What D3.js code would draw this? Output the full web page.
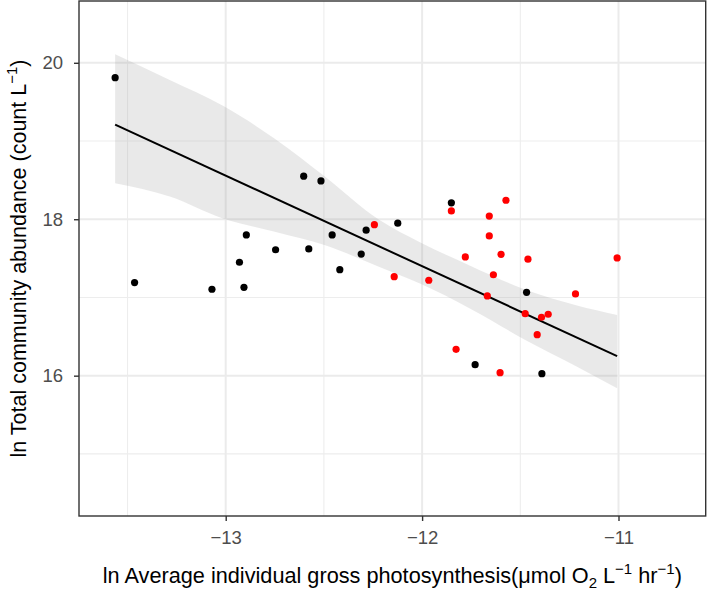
<!DOCTYPE html>
<html>
<head>
<meta charset="utf-8">
<script src="https://cdn.jsdelivr.net/npm/d3@7"></script>
<style>
  html, body { margin: 0; padding: 0; background: #fff; }
  svg { display: block; font-family: "Liberation Sans", Arial, Helvetica, sans-serif; }
</style>
</head>
<body>
<svg id="chart" width="709" height="591"></svg>
<script>
// ---- data ----
const blackX = [-13.563, -13.464, -13.070, -12.907, -12.895, -12.930, -12.746, -12.603, -12.515, -12.577,
                -12.458, -12.419, -12.310, -12.285, -12.124, -11.851, -11.468, -11.730, -11.390];
const blackY = [19.81, 17.19, 17.105, 17.13, 17.80, 17.45, 17.61, 18.55, 18.49, 17.62,
                17.80, 17.355, 17.555, 17.86, 17.95, 18.21, 17.066, 16.14, 16.026];
const redX = [-12.243, -12.142, -11.966, -11.851, -11.780, -11.658, -11.658, -11.598, -11.573, -11.637,
              -11.461, -11.007, -11.219, -11.668, -11.475, -11.392, -11.358, -11.414, -11.827, -11.603];
const redY = [17.93, 17.266, 17.22, 18.106, 17.518, 18.04, 17.786, 17.552, 18.243, 17.29,
              17.49, 17.505, 17.045, 17.02, 16.793, 16.747, 16.785, 16.524, 16.337, 16.038];
// fitted line and its confidence band
const fitX = [-13.563, -11.007];
const fitY = [19.21, 16.25];
const bandX  = [-13.563, -13.285, -13.014, -12.75, -12.497, -12.217, -12.014, -11.75, -11.47, -11.216, -11.007];
const bandHi = [20.11, 19.78, 19.45, 19.03, 18.55, 17.99, 17.71, 17.40, 17.095, 16.90, 16.776];
const bandLo = [18.46, 18.29, 18.01, 17.84, 17.67, 17.39, 17.18, 16.85, 16.45, 16.12, 15.84];
const xTicks = [-13, -12, -11];
const yTicks = [16, 18, 20];
const xMinor = [-13.5, -12.5, -11.5, -10.5];
const yMinor = [15, 17, 19];
const xDomain = [-13.747, -10.556];
const yDomain = [14.206, 20.79];

// ---- layout ----
const svg = d3.select("#chart");
const L = 79, T = 1, R = 705.7, B = 516;
const x = d3.scaleLinear().domain(xDomain).range([L, R]);
const y = d3.scaleLinear().domain(yDomain).range([B, T]);

// ---- grid ----
const grid = svg.append("g");
grid.selectAll(".xmin").data(xMinor.filter(v => v >= xDomain[0] && v <= xDomain[1])).join("line")
  .attr("x1", d => x(d)).attr("x2", d => x(d)).attr("y1", T).attr("y2", B)
  .attr("stroke", "#ededed").attr("stroke-width", 1.1);
grid.selectAll(".ymin").data(yMinor).join("line")
  .attr("y1", d => y(d)).attr("y2", d => y(d)).attr("x1", L).attr("x2", R)
  .attr("stroke", "#ededed").attr("stroke-width", 1.1);
grid.selectAll(".xmaj").data(xTicks).join("line")
  .attr("x1", d => x(d)).attr("x2", d => x(d)).attr("y1", T).attr("y2", B)
  .attr("stroke", "#ebebeb").attr("stroke-width", 2);
grid.selectAll(".ymaj").data(yTicks).join("line")
  .attr("y1", d => y(d)).attr("y2", d => y(d)).attr("x1", L).attr("x2", R)
  .attr("stroke", "#ebebeb").attr("stroke-width", 2);

// ---- confidence band + fit line ----
const band = bandX.map((v, i) => ({ x: v, lo: bandLo[i], hi: bandHi[i] }));
svg.append("path").datum(band)
  .attr("d", d3.area().curve(d3.curveMonotoneX).x(d => x(d.x)).y0(d => y(d.lo)).y1(d => y(d.hi)))
  .attr("fill", "#999999").attr("fill-opacity", 0.22);
svg.append("path").datum(fitX.map((v, i) => [v, fitY[i]]))
  .attr("d", d3.line().x(d => x(d[0])).y(d => y(d[1])))
  .attr("fill", "none").attr("stroke", "#000").attr("stroke-width", 2);

// ---- points ----
svg.append("g").selectAll("circle").data(blackX.map((v, i) => [v, blackY[i]])).join("circle")
  .attr("cx", d => x(d[0])).attr("cy", d => y(d[1])).attr("r", 3.6).attr("fill", "#000");
svg.append("g").selectAll("circle").data(redX.map((v, i) => [v, redY[i]])).join("circle")
  .attr("cx", d => x(d[0])).attr("cy", d => y(d[1])).attr("r", 3.6).attr("fill", "#ff0000");

// ---- panel border ----
svg.append("rect").attr("x", L).attr("y", T).attr("width", R - L).attr("height", B - T)
  .attr("fill", "none").attr("stroke", "#333333").attr("stroke-width", 1.4);

// ---- axes ----
const xAxis = svg.append("g").attr("transform", `translate(0,${B})`)
  .call(d3.axisBottom(x).tickValues(xTicks).tickSize(5).tickPadding(10).tickFormat(d => "\u2212" + Math.abs(d)));
const yAxis = svg.append("g").attr("transform", `translate(${L},0)`)
  .call(d3.axisLeft(y).tickValues(yTicks).tickSize(5).tickPadding(11).tickFormat(d3.format("d")));
[xAxis, yAxis].forEach(a => {
  a.select(".domain").remove();
  a.selectAll(".tick line").attr("stroke", "#333333").attr("stroke-width", 1.4);
  a.selectAll(".tick text").attr("fill", "#4d4d4d").style("font-size", "18.5px")
    .style("font-family", "'Liberation Sans', Arial, Helvetica, sans-serif");
});

// ---- axis titles ----
const xt = svg.append("text").attr("x", (L + R) / 2).attr("y", 583)
  .attr("text-anchor", "middle").attr("fill", "#000").style("font-size", "21.7px");
xt.append("tspan").text("ln Average individual gross photosynthesis(\u03bcmol O");
xt.append("tspan").text("2").attr("dy", 5).style("font-size", "15px");
xt.append("tspan").text(" L").attr("dy", -5);
xt.append("tspan").text("\u22121").attr("dy", -9).style("font-size", "15px");
xt.append("tspan").text(" hr").attr("dy", 9);
xt.append("tspan").text("\u22121").attr("dy", -9).style("font-size", "15px");
xt.append("tspan").text(")").attr("dy", 9);

const yt = svg.append("text").attr("transform", `translate(26,${(T + B) / 2}) rotate(-90)`)
  .attr("text-anchor", "middle").attr("fill", "#000").style("font-size", "21.5px");
yt.append("tspan").text("ln Total community abundance (count L");
yt.append("tspan").text("\u22121").attr("dy", -9).style("font-size", "15px");
yt.append("tspan").text(")").attr("dy", 9);
</script>
</body>
</html>
